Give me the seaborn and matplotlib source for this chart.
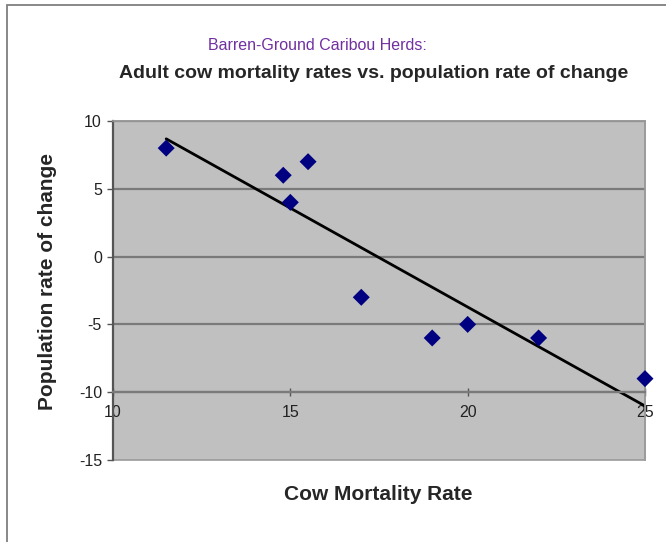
"""Barren-ground caribou: adult cow mortality vs. population rate of change (Excel-style scatter)."""
import pandas as pd
import seaborn as sns
import matplotlib.pyplot as plt
from matplotlib.patches import Rectangle

# data
mortality = [11.5, 14.8, 15.5, 15.0, 17.0, 19.0, 20.0, 22.0, 25.0]
rate_change = [8, 6, 7, 4, -3, -6, -5, -6, -9]
x_ticks = [10, 15, 20, 25]
y_ticks = [-15, -10, -5, 0, 5, 10]

df = pd.DataFrame({"mortality": mortality, "rate": rate_change})

sns.set_style("white")
plt.rcParams["font.family"] = ["Liberation Sans", "DejaVu Sans"]
plt.rcParams["axes.unicode_minus"] = False

fig = plt.figure(figsize=(6.66, 5.42), dpi=100)
ax = fig.add_axes([113 / 666, 82 / 542, 532 / 666, 339 / 542])
ax.set_facecolor("#c0c0c0")

# outer chart frame (only top and left visible)
fig.patches.append(Rectangle((7 / 666, -0.2), 1.2, 1.2 - 5 / 542, transform=fig.transFigure,
                             fill=False, edgecolor="#7f7f7f", linewidth=1.3))

# gridlines
for y in y_ticks[1:]:
    ax.axhline(y, color="#7a7a7a", linewidth=1.6, zorder=1)

# points + trend line
sns.regplot(data=df, x="mortality", y="rate", scatter=False, ci=None, truncate=True,
            line_kws={"color": "black", "linewidth": 2}, ax=ax)
sns.scatterplot(data=df, x="mortality", y="rate", marker="D", s=75, color="#000080",
                edgecolor="none", ax=ax, zorder=5, clip_on=False)

ax.set_xlim(10, 25)
ax.set_ylim(-15, 10)
ax.set_xticks(x_ticks)
ax.set_yticks(y_ticks)

# x axis crosses at -10, as Excel drew it
ax.spines["bottom"].set_position(("data", -10))
ax.spines["bottom"].set_color("#7a7a7a")
ax.spines["bottom"].set_linewidth(1.6)
ax.spines["left"].set_color("#555555")
ax.spines["left"].set_linewidth(1.6)
for s in ["top", "right"]:
    ax.spines[s].set_color("#9a9a9a")
    ax.spines[s].set_linewidth(1.2)
ax.add_patch(Rectangle((0, 0), 1, 1, transform=ax.transAxes, fill=False,
                       edgecolor="#9a9a9a", linewidth=1.2, clip_on=False, zorder=0.5))

ax.tick_params(axis="y", direction="out", length=4, width=1, color="#555555",
               labelsize=11.5, pad=4, left=True)
ax.tick_params(axis="x", direction="inout", length=6, width=1, color="#555555",
               labelsize=11.5, pad=6, bottom=True)
for lab in ax.get_xticklabels() + ax.get_yticklabels():
    lab.set_color("#222222")

ax.set_xlabel("")
ax.set_ylabel("")
fig.text(48 / 666, 1 - 282 / 542, "Population rate of change", rotation=90, ha="center", va="center",
         fontsize=15, fontweight="bold")
fig.text(378 / 666, 1 - 495 / 542, "Cow Mortality Rate", ha="center", va="center",
         fontsize=15, fontweight="bold")

fig.text(317 / 666, 1 - 45 / 542, "Barren-Ground Caribou Herds:", ha="center", va="center",
         fontsize=11.5, color="#7030a0")
fig.text(374 / 666, 1 - 74 / 542, "Adult cow mortality rates vs. population rate of change",
         ha="center", va="center", fontsize=14, fontweight="bold")

plt.savefig("out.png", dpi=100)
